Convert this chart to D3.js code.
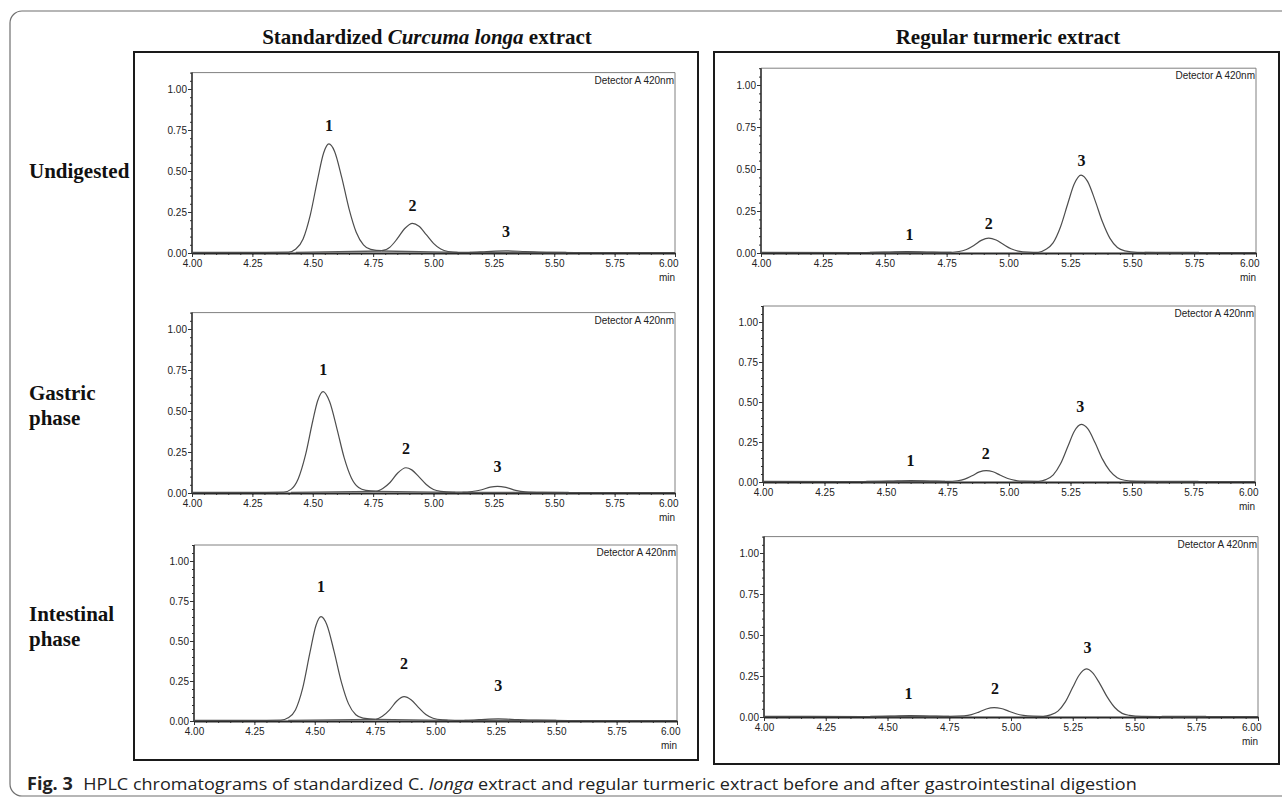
<!DOCTYPE html>
<html>
<head>
<meta charset="utf-8">
<script src="https://cdn.jsdelivr.net/npm/d3@7"></script>
<style>
  html, body { margin: 0; padding: 0; background: #fff; }
  svg { display: block; }
</style>
</head>
<body>
<div id="app"></div>
<script>
const extracts = ['Standardized', 'Regular turmeric extract'];
const conditions = [['Undigested'], ['Gastric', 'phase'], ['Intestinal', 'phase']];
const xTicks = [4.00, 4.25, 4.50, 4.75, 5.00, 5.25, 5.50, 5.75, 6.00];
const yTicks = [0.00, 0.25, 0.50, 0.75, 1.00];
const detector = 'Detector A 420nm';

// absorbance traces: [min, AU]
const stdUndigested = [[4.00, 0.004], [4.30, 0.004], [4.40, 0.005], [4.43, 0.024], [4.46, 0.086], [4.49, 0.233],
  [4.52, 0.448], [4.545, 0.61], [4.567, 0.665], [4.59, 0.621], [4.62, 0.461], [4.65, 0.271], [4.68, 0.127],
  [4.71, 0.05], [4.74, 0.022], [4.785, 0.014], [4.82, 0.036], [4.85, 0.087], [4.88, 0.148], [4.913, 0.181],
  [4.94, 0.163], [4.97, 0.112], [5.00, 0.059], [5.03, 0.024], [5.06, 0.009], [5.10, 0.004], [5.15, 0.004],
  [5.22, 0.009], [5.30, 0.013], [5.38, 0.009], [5.48, 0.004], [5.60, 0.003], [6.00, 0.003]];
const stdGastric = [[4.00, 0.004], [4.30, 0.004], [4.38, 0.005], [4.41, 0.022], [4.44, 0.087], [4.47, 0.232],
  [4.50, 0.439], [4.52, 0.561], [4.543, 0.618], [4.57, 0.556], [4.60, 0.393], [4.63, 0.216], [4.66, 0.092],
  [4.69, 0.033], [4.72, 0.016], [4.761, 0.011], [4.79, 0.028], [4.82, 0.064], [4.85, 0.119], [4.886, 0.154],
  [4.91, 0.141], [4.94, 0.098], [4.97, 0.052], [5.00, 0.021], [5.03, 0.01], [5.08, 0.005], [5.12, 0.005],
  [5.16, 0.009], [5.20, 0.02], [5.235, 0.036], [5.265, 0.041], [5.30, 0.034], [5.34, 0.016], [5.38, 0.007],
  [5.45, 0.004], [5.55, 0.003], [6.00, 0.003]];
const stdIntestinal = [[4.00, 0.004], [4.30, 0.004], [4.36, 0.005], [4.39, 0.02], [4.42, 0.069], [4.45, 0.205],
  [4.48, 0.427], [4.505, 0.597], [4.526, 0.652], [4.55, 0.602], [4.58, 0.435], [4.61, 0.245], [4.64, 0.107],
  [4.67, 0.039], [4.70, 0.018], [4.751, 0.011], [4.78, 0.03], [4.81, 0.07], [4.84, 0.125], [4.87, 0.152],
  [4.90, 0.131], [4.93, 0.084], [4.96, 0.04], [4.99, 0.017], [5.03, 0.007], [5.08, 0.004], [5.12, 0.004],
  [5.18, 0.008], [5.26, 0.013], [5.34, 0.009], [5.42, 0.005], [5.55, 0.003], [6.00, 0.003]];
const regUndigested = [[4.00, 0.004], [4.40, 0.003], [4.46, 0.004], [4.52, 0.006], [4.59, 0.008], [4.67, 0.006],
  [4.75, 0.004], [4.80, 0.009], [4.83, 0.021], [4.86, 0.045], [4.89, 0.075], [4.92, 0.089], [4.95, 0.077],
  [4.98, 0.05], [5.01, 0.025], [5.04, 0.011], [5.08, 0.005], [5.12, 0.004], [5.15, 0.021], [5.18, 0.06],
  [5.21, 0.155], [5.24, 0.296], [5.265, 0.409], [5.293, 0.464], [5.32, 0.425], [5.35, 0.312], [5.38, 0.184],
  [5.41, 0.087], [5.44, 0.033], [5.47, 0.013], [5.52, 0.004], [5.60, 0.003], [6.00, 0.003]];
const regGastric = [[4.00, 0.004], [4.40, 0.003], [4.48, 0.004], [4.53, 0.006], [4.60, 0.008], [4.68, 0.006],
  [4.75, 0.004], [4.79, 0.008], [4.82, 0.018], [4.85, 0.039], [4.88, 0.063], [4.907, 0.071], [4.935, 0.064],
  [4.965, 0.042], [4.995, 0.022], [5.025, 0.01], [5.06, 0.005], [5.12, 0.004], [5.15, 0.015], [5.18, 0.045],
  [5.21, 0.115], [5.24, 0.225], [5.265, 0.316], [5.294, 0.36], [5.32, 0.333], [5.35, 0.245], [5.38, 0.143],
  [5.41, 0.069], [5.44, 0.027], [5.47, 0.011], [5.52, 0.004], [5.60, 0.003], [6.00, 0.003]];
const regIntestinal = [[4.00, 0.004], [4.40, 0.003], [4.48, 0.004], [4.53, 0.006], [4.59, 0.008], [4.67, 0.006],
  [4.75, 0.004], [4.81, 0.007], [4.84, 0.014], [4.87, 0.03], [4.90, 0.049], [4.932, 0.057], [4.96, 0.052],
  [4.99, 0.036], [5.02, 0.02], [5.05, 0.01], [5.09, 0.005], [5.13, 0.004], [5.16, 0.013], [5.19, 0.036],
  [5.22, 0.092], [5.25, 0.181], [5.275, 0.253], [5.305, 0.293], [5.33, 0.271], [5.36, 0.202], [5.39, 0.121],
  [5.42, 0.058], [5.45, 0.022], [5.48, 0.01], [5.53, 0.004], [5.60, 0.003], [6.00, 0.003]];

// integration baselines: [t1, v1, t2, v2]
const stdUndigestedBase = [[4.43, 0.004, 4.785, 0.012], [4.785, 0.012, 5.10, 0.004], [5.15, 0.004, 5.55, 0.003]];
const stdGastricBase = [[4.41, 0.004, 4.761, 0.01], [4.761, 0.01, 5.09, 0.004], [5.12, 0.004, 5.56, 0.003]];
const stdIntestinalBase = [[4.39, 0.004, 4.751, 0.01], [4.751, 0.01, 5.05, 0.004], [5.12, 0.004, 5.50, 0.003]];
const regUndigestedBase = [[4.44, 0.003, 4.77, 0.003], [5.55, 0.003, 5.77, 0.003]];
const regGastricBase = [[4.42, 0.003, 4.74, 0.003], [5.49, 0.003, 5.77, 0.003]];
const regIntestinalBase = [[4.43, 0.003, 4.75, 0.003], [5.61, 0.003, 5.79, 0.003]];

// peak numbers: [min, AU at label baseline, label]
const stdUndigestedPeaks = [[4.567, 0.744, '1'], [4.913, 0.256, '2'], [5.30, 0.098, '3']];
const stdGastricPeaks = [[4.543, 0.72, '1'], [4.886, 0.238, '2'], [5.265, 0.128, '3']];
const stdIntestinalPeaks = [[4.526, 0.806, '1'], [4.870, 0.325, '2'], [5.26, 0.188, '3']];
const regUndigestedPeaks = [[4.60, 0.077, '1'], [4.92, 0.143, '2'], [5.295, 0.518, '3']];
const regGastricPeaks = [[4.60, 0.10, '1'], [4.905, 0.146, '2'], [5.29, 0.438, '3']];
const regIntestinalPeaks = [[4.585, 0.11, '1'], [4.935, 0.14, '2'], [5.31, 0.39, '3']];

(() => {
  const sans = 'Liberation Sans, Arial, Helvetica, sans-serif';
  const serif = 'Liberation Serif, Times New Roman, serif';
  const yMax = 1.1;

  // plot boxes: left/right pixel of 4.00/6.00 min, pixel of 0 and 1 AU
  const panels = [
    { trace: stdUndigested, base: stdUndigestedBase, peaks: stdUndigestedPeaks, l: 192, r: 675, y0: 253, y1: 89 },
    { trace: stdGastric, base: stdGastricBase, peaks: stdGastricPeaks, l: 192, r: 675, y0: 493, y1: 329 },
    { trace: stdIntestinal, base: stdIntestinalBase, peaks: stdIntestinalPeaks, l: 194, r: 677, y0: 721, y1: 561 },
    { trace: regUndigested, base: regUndigestedBase, peaks: regUndigestedPeaks, l: 761, r: 1256, y0: 253, y1: 85 },
    { trace: regGastric, base: regGastricBase, peaks: regGastricPeaks, l: 763, r: 1255, y0: 482, y1: 322 },
    { trace: regIntestinal, base: regIntestinalBase, peaks: regIntestinalPeaks, l: 764, r: 1258, y0: 717, y1: 553 },
  ];

  const svg = d3.select('#app')
    .append('svg')
    .attr('width', 1282)
    .attr('height', 801);

  // outer figure frame (right side runs off the page)
  svg.append('rect')
    .attr('x', 10).attr('y', 11)
    .attr('width', 1300).attr('height', 785)
    .attr('rx', 12)
    .style('fill', 'none')
    .style('stroke', '#6f6f6f')
    .style('stroke-width', 1.2);

  // group boxes
  [[134, 52, 564, 708], [714, 52, 565, 712]].forEach(([x, y, w, h]) => {
    svg.append('rect')
      .attr('x', x).attr('y', y).attr('width', w).attr('height', h)
      .style('fill', 'none')
      .style('stroke', '#1a1a1a')
      .style('stroke-width', 2);
  });

  // column titles
  const t1 = svg.append('text')
    .attr('x', 427).attr('y', 44)
    .attr('font-family', serif)
    .attr('font-size', 21)
    .attr('font-weight', 700)
    .style('fill', '#111')
    .style('text-anchor', 'middle');
  t1.append('tspan').text(`${extracts[0]} `);
  t1.append('tspan').text('Curcuma longa').style('font-style', 'italic');
  t1.append('tspan').text(' extract');

  svg.append('text')
    .text(extracts[1])
    .attr('x', 1008).attr('y', 44)
    .attr('font-family', serif)
    .attr('font-size', 21)
    .attr('font-weight', 700)
    .style('fill', '#111')
    .style('text-anchor', 'middle');

  // row labels
  const rowBaselines = [178, 400, 621];
  conditions.forEach((lines, i) => {
    lines.forEach((line, j) => {
      svg.append('text')
        .text(line)
        .attr('x', 29)
        .attr('y', rowBaselines[i] + (j * 25))
        .attr('font-family', serif)
        .attr('font-size', 21)
        .attr('font-weight', 700)
        .style('fill', '#111');
    });
  });

  panels.forEach((p) => {
    const x = d3.scaleLinear().domain([4, 6]).range([p.l, p.r]);
    const y = d3.scaleLinear().domain([0, yMax]).range([p.y0, p.y0 - (yMax * (p.y0 - p.y1))]);
    const top = y(yMax);
    const g = svg.append('g');

    // frame top / right
    g.append('path')
      .attr('d', `M${p.l},${top}H${p.r}V${p.y0}`)
      .style('fill', 'none')
      .style('stroke', '#808080')
      .style('stroke-width', 1);

    // minor ticks
    g.append('g')
      .attr('transform', `translate(${p.l},0)`)
      .call(d3.axisLeft(y).tickValues(y.ticks(22)).tickSize(2).tickFormat(''))
      .call(a => a.select('.domain').remove())
      .selectAll('line').style('stroke', '#333');
    g.append('g')
      .attr('transform', `translate(0,${p.y0})`)
      .call(d3.axisBottom(x).tickValues(x.ticks(40)).tickSize(2).tickFormat(''))
      .call(a => a.select('.domain').remove())
      .selectAll('line').style('stroke', '#333');

    // major axes
    const yAxis = g.append('g')
      .attr('transform', `translate(${p.l},0)`)
      .call(d3.axisLeft(y).tickValues(yTicks).tickFormat(d3.format('.2f')).tickSize(4).tickPadding(1).tickSizeOuter(0));
    yAxis.select('.domain').attr('d', `M0,${p.y0}V${top}`).style('stroke', '#2a2a2a').style('stroke-width', 1.6);
    yAxis.selectAll('line').style('stroke', '#333');
    yAxis.selectAll('text').attr('font-family', sans).attr('font-size', 10).style('fill', '#222');

    const xAxis = g.append('g')
      .attr('transform', `translate(0,${p.y0})`)
      .call(d3.axisBottom(x).tickValues(xTicks).tickFormat(d3.format('.2f')).tickSize(4).tickPadding(3).tickSizeOuter(0));
    xAxis.select('.domain').style('stroke', '#2a2a2a').style('stroke-width', 2);
    xAxis.selectAll('line').style('stroke', '#333');
    xAxis.selectAll('text').attr('font-family', sans).attr('font-size', 10).style('fill', '#222');
    xAxis.selectAll('.tick').filter(d => d === 6).select('text')
      .attr('x', 3).style('text-anchor', 'end');

    g.append('text')
      .text('min')
      .attr('x', p.r).attr('y', p.y0 + 28)
      .attr('font-family', sans).attr('font-size', 10)
      .style('fill', '#222')
      .style('text-anchor', 'end');

    g.append('text')
      .text(detector)
      .attr('x', p.r - 1).attr('y', top + 11)
      .attr('font-family', sans).attr('font-size', 10)
      .style('fill', '#222')
      .style('text-anchor', 'end');

    // integration baselines
    g.selectAll('.base')
      .data(p.base)
      .enter()
      .append('line')
      .attr('x1', d => x(d[0])).attr('y1', d => y(d[1]))
      .attr('x2', d => x(d[2])).attr('y2', d => y(d[3]))
      .style('stroke', '#5a5a5a')
      .style('stroke-width', 1.4);

    // chromatogram
    g.append('path')
      .datum(p.trace)
      .attr('d', d3.line().x(d => x(d[0])).y(d => y(d[1])).curve(d3.curveMonotoneX))
      .style('fill', 'none')
      .style('stroke', '#4d4d4d')
      .style('stroke-width', 1.2);

    // peak numbers
    g.selectAll('.peak')
      .data(p.peaks)
      .enter()
      .append('text')
      .text(d => d[2])
      .attr('x', d => x(d[0]))
      .attr('y', d => y(d[1]))
      .attr('font-family', serif)
      .attr('font-size', 16)
      .attr('font-weight', 700)
      .style('fill', '#111')
      .style('text-anchor', 'middle');
  });

  // caption
  const cap = svg.append('g');
  const capText = cap.append('text')
    .attr('font-family', 'Open Sans, Noto Sans, sans-serif')
    .attr('font-size', 17)
    .style('fill', '#222');
  capText.append('tspan').text('Fig. 3').attr('font-weight', 700);
  capText.append('tspan').attr('dx', 10).text('HPLC chromatograms of standardized C. ');
  capText.append('tspan').text('longa').style('font-style', 'italic');
  capText.append('tspan').text(' extract and regular turmeric extract before and after gastrointestinal digestion');
  const capWidth = capText.node().getComputedTextLength();
  cap.attr('transform', `translate(27,790) scale(${1100 / capWidth},1)`);
})();
</script>
</body>
</html>
